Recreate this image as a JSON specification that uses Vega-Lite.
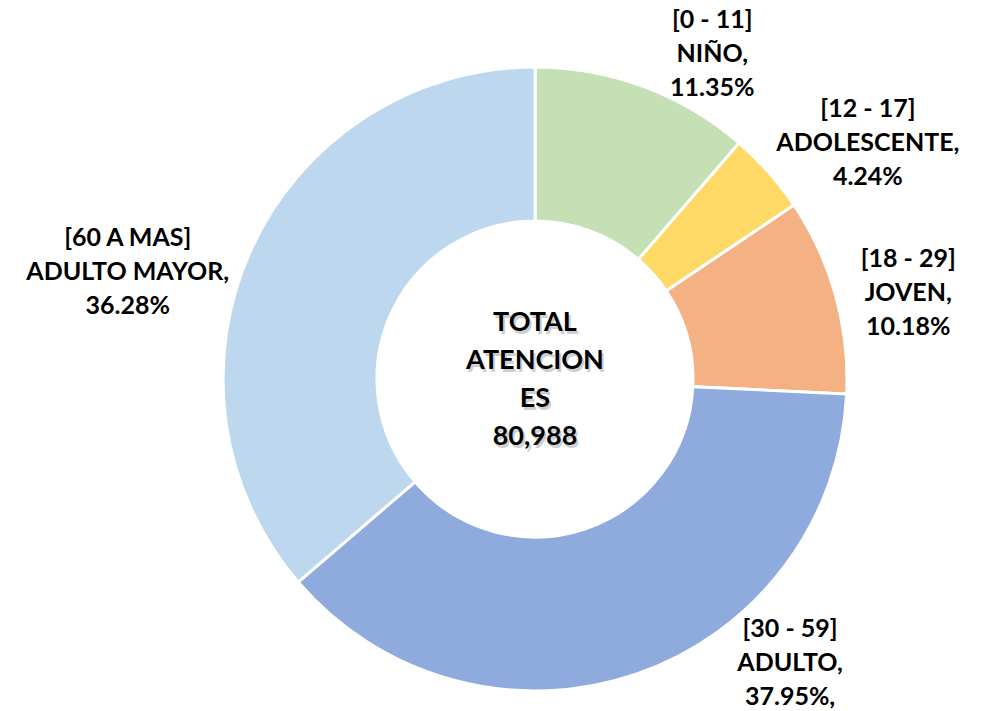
{
  "$schema": "https://vega.github.io/schema/vega-lite/v6.json",
  "autosize": {"type": "none"},
  "width": 900,
  "height": 664,
  "padding": {"left": 85, "top": 47, "right": 7, "bottom": 0},
  "background": "white",
  "config": {"view": {"stroke": null}},
  "layer": [
    {
      "data": {"values": [
        {"grupo": "NIÑO", "pct": 11.35, "label": "[0 - 11]\nNIÑO,\n11.35%", "orden": 1},
        {"grupo": "ADOLESCENTE", "pct": 4.24, "label": "[12 - 17]\nADOLESCENTE,\n4.24%", "orden": 2},
        {"grupo": "JOVEN", "pct": 10.18, "label": "[18 - 29]\nJOVEN,\n10.18%", "orden": 3},
        {"grupo": "ADULTO", "pct": 37.95, "label": "[30 - 59]\nADULTO,\n37.95%,", "orden": 4},
        {"grupo": "ADULTO MAYOR", "pct": 36.28, "label": "[60 A MAS]\nADULTO MAYOR,\n36.28%", "orden": 5}
      ]},
      "transform": [
        {"stack": "pct", "groupby": [], "sort": [{"field": "orden", "order": "ascending"}], "as": ["p0", "p1"]},
        {"calculate": "(datum.p0 + datum.p1) / 2", "as": "pm"}
      ],
      "layer": [
        {
          "mark": {"type": "arc", "outerRadius": 312, "innerRadius": 158, "stroke": "white", "strokeWidth": 3},
          "encoding": {
            "theta": {"field": "p0", "type": "quantitative", "scale": {"domain": [0, 100]}},
            "theta2": {"field": "p1"},
            "color": {
              "field": "grupo", "type": "nominal", "legend": null,
              "scale": {
                "domain": ["NIÑO", "ADOLESCENTE", "JOVEN", "ADULTO", "ADULTO MAYOR"],
                "range": ["#C5E0B4", "#FFD966", "#F4B183", "#8FAADC", "#BDD7EE"]
              }
            }
          }
        },
        {
          "transform": [{"filter": "datum.orden == 1"}],
          "mark": {"type": "text", "radius": 370, "thetaOffset": 0.143, "dy": -34, "lineBreak": "\n", "font": "Lato", "fontSize": 25, "fontWeight": "bold", "lineHeight": 34, "align": "center", "baseline": "middle", "color": "black"},
          "encoding": {"theta": {"field": "pm", "type": "quantitative"}, "text": {"field": "label", "type": "nominal"}}
        },
        {
          "transform": [{"filter": "datum.orden == 2"}],
          "mark": {"type": "text", "radius": 408, "thetaOffset": 0.108, "dy": -34, "lineBreak": "\n", "font": "Lato", "fontSize": 25, "fontWeight": "bold", "lineHeight": 34, "align": "center", "baseline": "middle", "color": "black"},
          "encoding": {"theta": {"field": "pm", "type": "quantitative"}, "text": {"field": "label", "type": "nominal"}}
        },
        {
          "transform": [{"filter": "datum.orden == 3"}],
          "mark": {"type": "text", "radius": 383, "thetaOffset": 0.045, "dy": -34, "lineBreak": "\n", "font": "Lato", "fontSize": 25, "fontWeight": "bold", "lineHeight": 34, "align": "center", "baseline": "middle", "color": "black"},
          "encoding": {"theta": {"field": "pm", "type": "quantitative"}, "text": {"field": "label", "type": "nominal"}}
        },
        {
          "transform": [{"filter": "datum.orden == 4"}],
          "mark": {"type": "text", "radius": 382, "thetaOffset": -0.401, "dy": -34, "lineBreak": "\n", "font": "Lato", "fontSize": 25, "fontWeight": "bold", "lineHeight": 34, "align": "center", "baseline": "middle", "color": "black"},
          "encoding": {"theta": {"field": "pm", "type": "quantitative"}, "text": {"field": "label", "type": "nominal"}}
        },
        {
          "transform": [{"filter": "datum.orden == 5"}],
          "mark": {"type": "text", "radius": 421, "thetaOffset": -0.175, "dy": -34, "lineBreak": "\n", "font": "Lato", "fontSize": 25, "fontWeight": "bold", "lineHeight": 34, "align": "center", "baseline": "middle", "color": "black"},
          "encoding": {"theta": {"field": "pm", "type": "quantitative"}, "text": {"field": "label", "type": "nominal"}}
        }
      ]
    },
    {
      "data": {"values": [{"t": "TOTAL\nATENCION\nES\n80,988"}]},
      "layer": [
        {
          "mark": {"type": "text", "lineBreak": "\n", "font": "Lato", "fontSize": 27, "fontWeight": "bold", "lineHeight": 38, "align": "center", "baseline": "middle", "color": "#a0a0a0", "opacity": 0.5, "dx": 2, "dy": -53},
          "encoding": {"text": {"field": "t", "type": "nominal"}}
        },
        {
          "mark": {"type": "text", "lineBreak": "\n", "font": "Lato", "fontSize": 27, "fontWeight": "bold", "lineHeight": 38, "align": "center", "baseline": "middle", "color": "black", "dy": -56},
          "encoding": {"text": {"field": "t", "type": "nominal"}}
        }
      ]
    }
  ]
}
